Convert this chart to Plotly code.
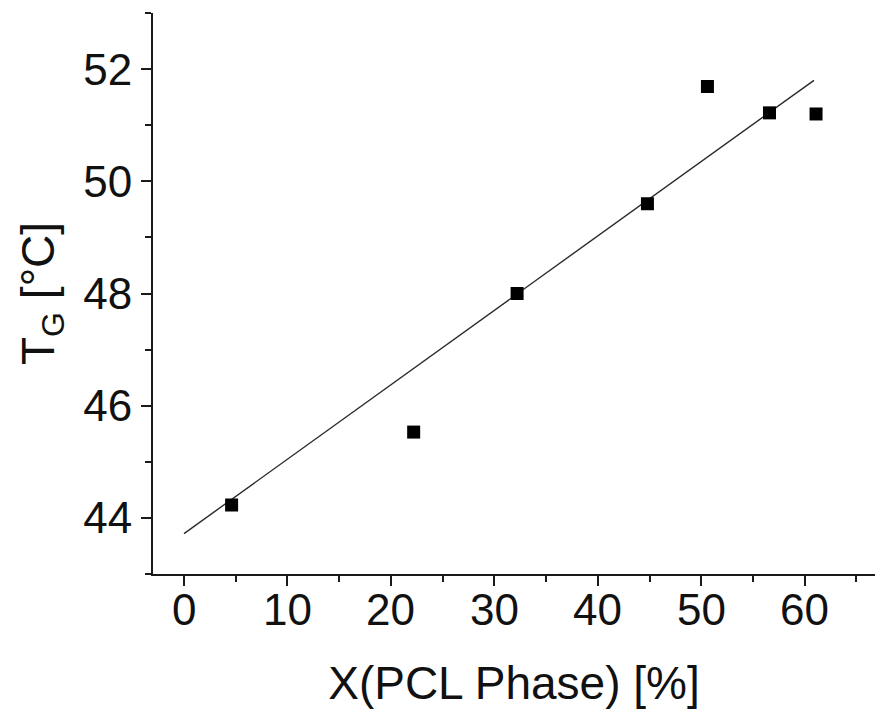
import plotly.graph_objects as go

# Data
pcl_phase = [4.6, 22.2, 32.2, 44.8, 50.6, 56.6, 61.1]
tg = [44.23, 45.53, 48.0, 49.6, 51.69, 51.22, 51.2]

# Linear fit line endpoints
fit_x = [0.0, 60.9]
fit_y = [43.72, 51.80]

x_ticks = [0, 10, 20, 30, 40, 50, 60]
y_ticks = [44, 46, 48, 50, 52]

FONT = "Liberation Sans, Arial, sans-serif"
AX = "#1a1a1a"

fig = go.Figure()
fig.add_trace(go.Scatter(x=fit_x, y=fit_y, mode="lines",
                         line=dict(color="#2a2a2a", width=1.4),
                         showlegend=False, hoverinfo="skip"))
fig.add_trace(go.Scatter(x=pcl_phase, y=tg, mode="markers",
                         marker=dict(symbol="square", size=13, color="#000000",
                                     line=dict(width=0)),
                         showlegend=False))

# x tick labels as annotations so they can sit closer to the axis
for v in x_ticks:
    fig.add_annotation(x=v, y=0, xref="x", yref="paper", text=str(v),
                       showarrow=False, xanchor="center", yanchor="top",
                       yshift=-9, font=dict(size=44, family=FONT, color="#111111"))

fig.update_layout(
    width=875, height=709,
    margin=dict(l=153, r=0, t=13, b=135),
    paper_bgcolor="white", plot_bgcolor="white",
    font=dict(family=FONT, color="#111111"),
    xaxis=dict(
        range=[-3, 66.8], tickmode="array", tickvals=x_ticks,
        showticklabels=False,
        showgrid=False, zeroline=False,
        showline=True, linecolor=AX, linewidth=2,
        ticks="outside", ticklen=10, tickwidth=2, tickcolor=AX,
        minor=dict(dtick=5, ticks="outside", ticklen=6, tickwidth=2, tickcolor=AX, showgrid=False),
        title=dict(text="X(PCL Phase) [%]", font=dict(size=46, family=FONT, color="#111111"),
                   standoff=83),
    ),
    yaxis=dict(
        range=[43, 53], tickmode="array", tickvals=y_ticks,
        ticktext=[str(v) for v in y_ticks],
        showgrid=False, zeroline=False,
        showline=True, linecolor=AX, linewidth=2,
        ticks="outside", ticklen=10, tickwidth=2, tickcolor=AX,
        minor=dict(dtick=1, ticks="outside", ticklen=6, tickwidth=2, tickcolor=AX, showgrid=False),
        tickfont=dict(size=44, family=FONT, color="#111111"),
        title=dict(text="T<sub>G</sub> [°C]", font=dict(size=46, family=FONT, color="#111111"),
                   standoff=14),
    ),
)

fig.write_html("out.html")
